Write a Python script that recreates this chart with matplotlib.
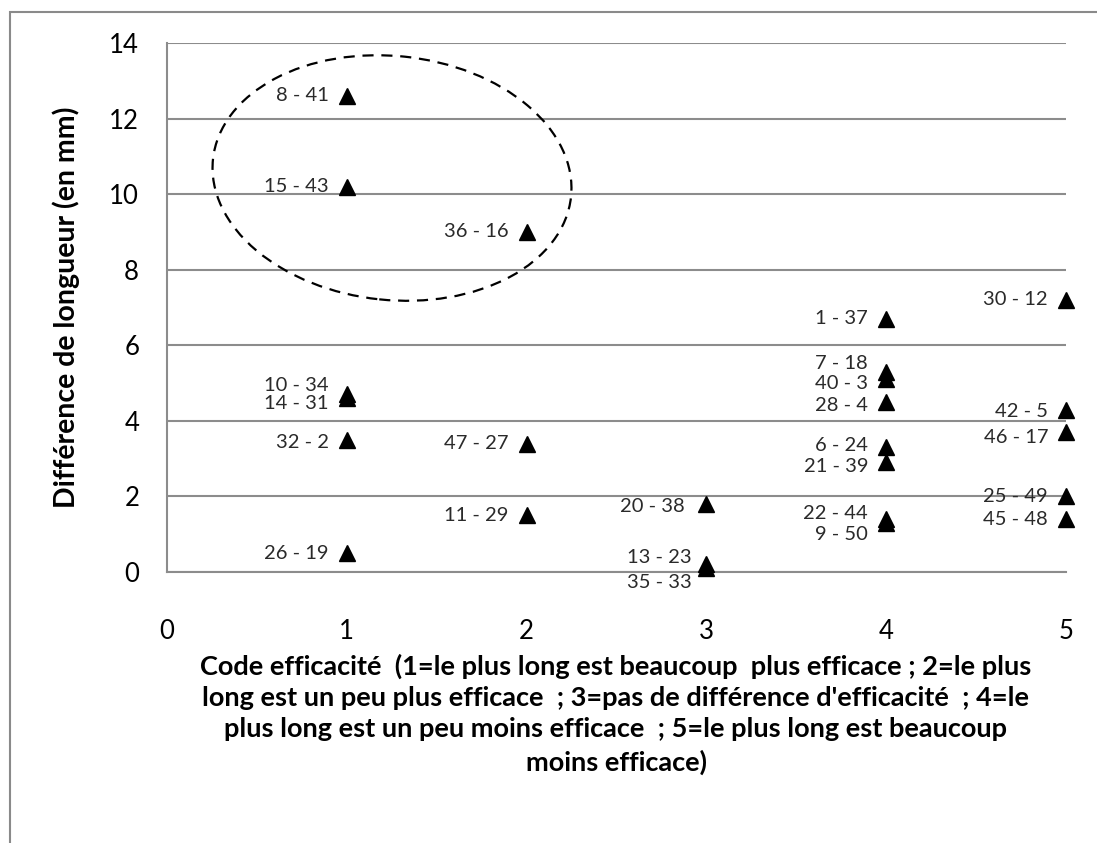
import matplotlib
matplotlib.use("Agg")
import matplotlib.pyplot as plt
from matplotlib.patches import Ellipse, Rectangle
from matplotlib.transforms import IdentityTransform

plt.rcParams['font.family'] = ['Lato', 'DejaVu Sans']

# ---- data ----
codes = [1, 1, 1, 1, 1, 1,
         2, 2, 2,
         3, 3, 3,
         4, 4, 4, 4, 4, 4, 4, 4,
         5, 5, 5, 5, 5]
diffs = [12.6, 10.2, 4.7, 4.6, 3.5, 0.5,
         9.0, 3.4, 1.5,
         1.8, 0.2, 0.1,
         6.7, 5.3, 5.1, 4.5, 3.3, 2.9, 1.4, 1.3,
         7.2, 4.3, 3.7, 2.0, 1.4]
pair_labels = ["8 - 41", "15 - 43", "10 - 34", "14 - 31", "32 - 2", "26 - 19",
               "36 - 16", "47 - 27", "11 - 29",
               "20 - 38", "13 - 23", "35 - 33",
               "1 - 37", "7 - 18", "40 - 3", "28 - 4", "6 - 24", "21 - 39", "22 - 44", "9 - 50",
               "30 - 12", "42 - 5", "46 - 17", "25 - 49", "45 - 48"]
x_ticks = [0, 1, 2, 3, 4, 5]
y_ticks = [0, 2, 4, 6, 8, 10, 12, 14]
y_title = "Différence de longueur (en mm)"
x_title = ("Code efficacité  (1=le plus long est beaucoup  plus efficace ; 2=le plus\n"
           "long est un peu plus efficace  ; 3=pas de différence d'efficacité  ; 4=le\n"
           "plus long est un peu moins efficace  ; 5=le plus long est beaucoup\n"
           "moins efficace)")

# label nudges (pixels): (dx, dy)
label_offsets = {
    "10 - 34": (-18, 9), "14 - 31": (-18, -5), "32 - 2": (-18, -3),
    "20 - 38": (-22, -3), "13 - 23": (-15, 7), "35 - 33": (-15, -14),
    "7 - 18": (-18, 8), "40 - 3": (-18, -4), "28 - 4": (-18, -4),
    "6 - 24": (-18, 2), "21 - 39": (-18, -4), "22 - 44": (-18, 6), "9 - 50": (-18, -12),
    "42 - 5": (-18, -2), "46 - 17": (-18, -5),
}

W, H = 1097, 843
fig = plt.figure(figsize=(W / 100, H / 100), dpi=100)
fig.patch.set_facecolor('white')

# outer chart frame (cut at right and bottom)
fig.patches.append(Rectangle((10 / W, -0.1), 1.2, 1 - 12 / H + 0.1,
                             transform=fig.transFigure, fill=False,
                             edgecolor='#8a8a8a', linewidth=1.5))

ax = fig.add_axes([167 / W, 1 - 572 / H, (1066 - 167) / W, (572 - 43) / H])
ax.set_xlim(0, 5)
ax.set_ylim(0, 14)
ax.set_xticks(x_ticks)
ax.set_yticks(y_ticks)
ax.set_xticklabels([str(v) for v in x_ticks], fontsize=18.5)
ax.set_yticklabels([str(v) for v in y_ticks], fontsize=18.5)
ax.tick_params(axis='both', length=0, colors='black')
ax.tick_params(axis='x', pad=34)
ax.tick_params(axis='y', pad=20)

for s in ['top', 'right']:
    ax.spines[s].set_visible(False)
for s in ['left', 'bottom']:
    ax.spines[s].set_color('#8c8c8c')
    ax.spines[s].set_linewidth(1.5)

ax.yaxis.grid(True, color='#8c8c8c', linewidth=1.5)
ax.set_axisbelow(True)

ax.plot(codes, diffs, linestyle='none', marker='^', color='black',
        markersize=11, clip_on=False, zorder=3)

for xv, yv, lab in zip(codes, diffs, pair_labels):
    dx, dy = label_offsets.get(lab, (-18, 0))
    ax.annotate(lab, (xv, yv), xytext=(dx, dy), textcoords='offset pixels',
                ha='right', va='center', fontsize=14.5, color='#2a2a2a', zorder=4)

ax.set_ylabel(y_title, fontsize=20.5, fontweight='bold')
ax.yaxis.set_label_coords(-0.097, 0.5)
fig.text(616 / W, 1 - 714 / H, x_title, ha='center', va='center',
         fontsize=19.5, fontweight='bold', linespacing=1.37)

# dashed ellipse drawn in pixel space around the three points
cx, cy = 392, H - 178
ell = Ellipse((cx, cy), 360, 244, angle=-6, fill=False, linestyle=(0, (5, 3.5)),
              edgecolor='black', linewidth=1.6, transform=IdentityTransform())
fig.patches.append(ell)

fig.savefig('out.png', dpi=100, facecolor='white')
